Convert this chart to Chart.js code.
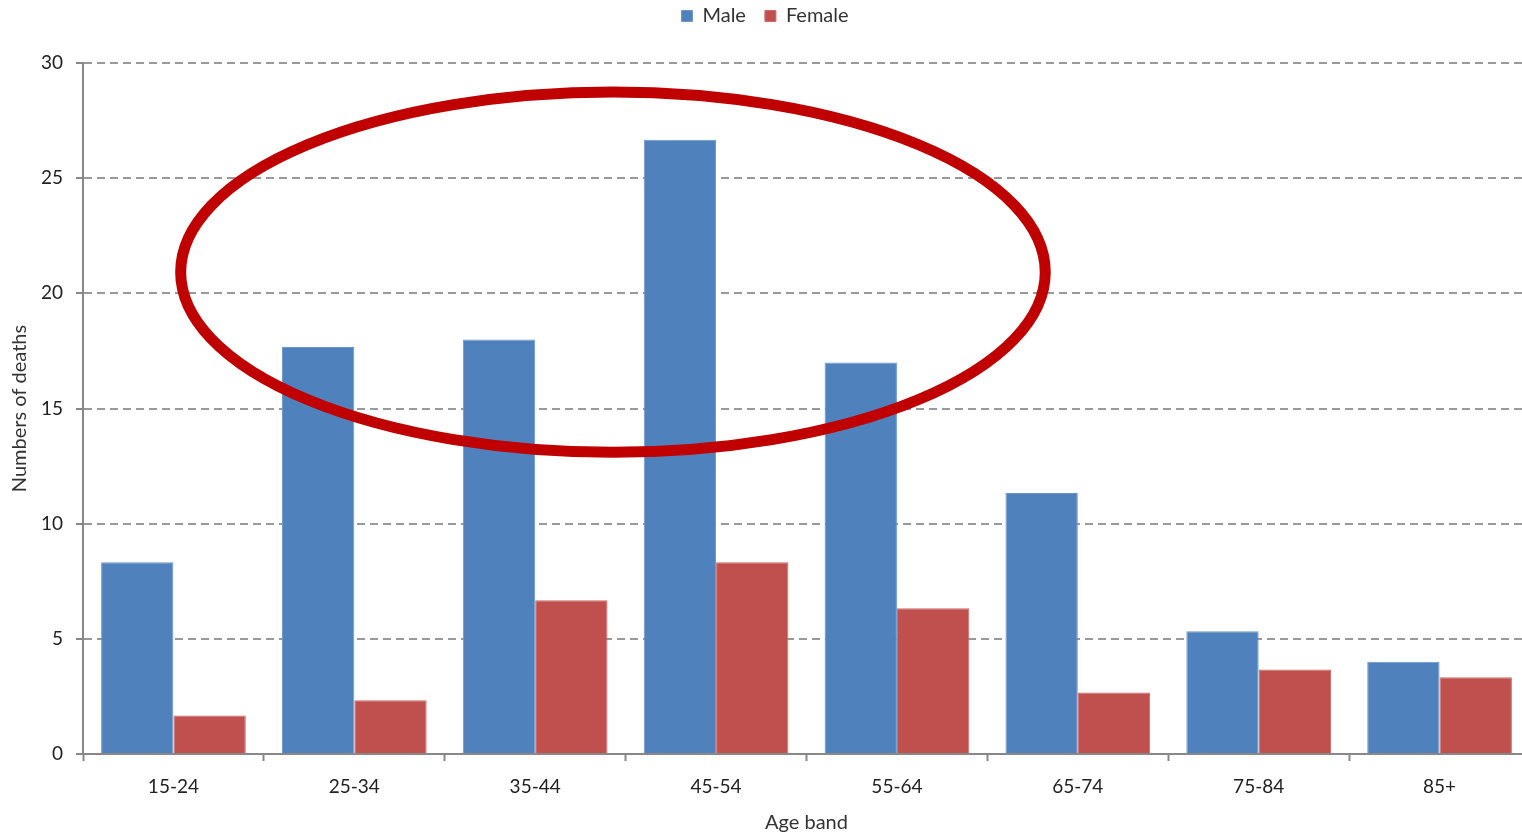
<!DOCTYPE html>
<html>
<head>
<meta charset="utf-8">
<script src="https://cdn.jsdelivr.net/npm/chart.js@4/dist/chart.umd.min.js"></script>
<style>
  html, body { margin: 0; padding: 0; background: #fff; overflow: hidden; }
  #wrap { width: 1540px; height: 835px; }
</style>
</head>
<body>
<div id="wrap"><canvas id="c" width="1540" height="835"></canvas></div>
<script>
// Deaths by age band and sex
const ageBands = ['15-24', '25-34', '35-44', '45-54', '55-64', '65-74', '75-84', '85+'];
const maleDeaths = [8.33, 17.67, 18, 26.67, 17, 11.33, 5.33, 4];
const femaleDeaths = [1.67, 2.33, 6.67, 8.33, 6.33, 2.67, 3.67, 3.33];
const yTicks = [0, 5, 10, 15, 20, 25, 30];

// Highlight ring around the peak working-age bands (axis units)
const ring = { x: 2.43, y: 20.92, rx: 2.39, ry: 7.82 };

const FONT = 'Lato, "Open Sans", sans-serif';

const ringPlugin = {
  id: 'ring',
  afterDatasetsDraw(chart) {
    const xs = chart.scales.x, ys = chart.scales.y;
    const cx = xs.getPixelForValue(ring.x);
    const cy = ys.getPixelForValue(ring.y);
    const rx = xs.getPixelForValue(ring.x + ring.rx) - cx;
    const ry = cy - ys.getPixelForValue(ring.y + ring.ry);
    const ctx = chart.ctx;
    ctx.save();
    ctx.beginPath();
    ctx.ellipse(cx, cy, rx, ry, 0, 0, Math.PI * 2);
    ctx.lineWidth = 11;
    ctx.strokeStyle = '#C00000';
    ctx.stroke();
    ctx.restore();
  }
};

// Extra space between the legend row and the plot
const legendGap = {
  id: 'legendGap',
  beforeLayout(chart) {
    const lg = chart.legend;
    if (lg && !lg._gapPatched) {
      const fit = lg.fit;
      lg.fit = function () { fit.call(this); this.height += 27; };
      lg._gapPatched = true;
    }
  }
};

new Chart(document.getElementById('c'), {
  type: 'bar',
  data: {
    labels: ageBands,
    datasets: [
      { label: 'Male', data: maleDeaths, backgroundColor: '#4F81BD', borderColor: '#6C97CC', borderWidth: 1 },
      { label: 'Female', data: femaleDeaths, backgroundColor: '#C0504D', borderColor: '#CF6B68', borderWidth: 1 }
    ]
  },
  options: {
    responsive: false,
    animation: false,
    devicePixelRatio: 1,
    layout: { padding: { left: 0, right: 10, top: -13, bottom: 0 } },
    datasets: { bar: { categoryPercentage: 0.8, barPercentage: 1.0 } },
    plugins: {
      legend: {
        position: 'top',
        labels: {
          boxWidth: 11, boxHeight: 11, padding: 19,
          color: '#333', font: { family: FONT, size: 20 }
        }
      },
      tooltip: { enabled: false }
    },
    scales: {
      x: {
        offset: true,
        grid: {
          offset: true, drawOnChartArea: false, drawTicks: true,
          tickLength: 7, color: '#888', tickColor: '#888', tickWidth: 2
        },
        border: { display: true, color: '#888', width: 2 },
        ticks: { color: '#222', font: { family: FONT, size: 19 }, padding: 14 },
        title: {
          display: true, text: 'Age band', color: '#333',
          font: { family: FONT, size: 20 }, padding: { top: 6, bottom: 0 }
        },
        afterFit(s) { s.height = 81; }
      },
      y: {
        min: 0, max: 30,
        afterBuildTicks(s) { s.ticks = yTicks.map(v => ({ value: v })); },
        grid: {
          color: '#999', lineWidth: 2,
          tickLength: 7, tickColor: '#888', tickBorderDash: [], tickWidth: 2
        },
        border: { display: true, color: '#888', width: 2, dash: [8, 5] },
        ticks: { color: '#222', font: { family: FONT, size: 19 }, padding: 13 },
        title: {
          display: true, text: 'Numbers of deaths', color: '#333',
          font: { family: FONT, size: 20 }, padding: { top: 8, bottom: 0 }
        },
        afterFit(s) { s.width = 83; }
      }
    }
  },
  plugins: [legendGap, ringPlugin]
});
</script>
</body>
</html>
